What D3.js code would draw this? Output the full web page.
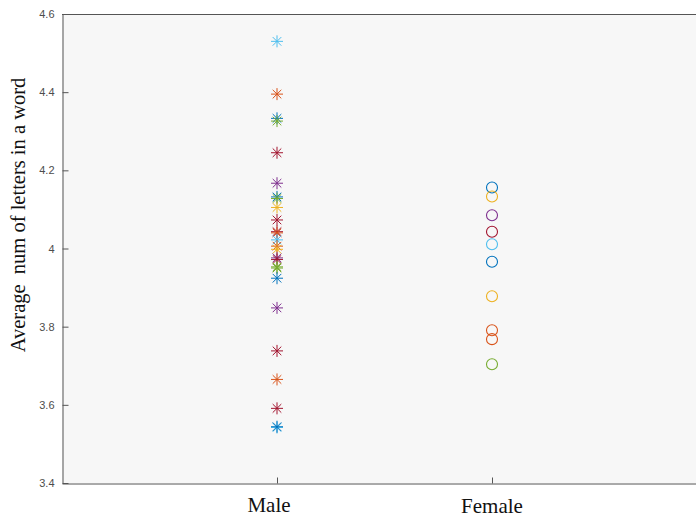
<!DOCTYPE html>
<html>
<head>
  <meta charset="utf-8" />
  <script src="https://cdnjs.cloudflare.com/ajax/libs/d3/7.8.5/d3.min.js"></script>
  <style>
    body { margin: 0; background: #fff; }
    .tick text { font-family: Arial, "Liberation Sans", sans-serif; font-size: 11px; fill: #4d4d4d; }
  </style>
</head>
<body>
  <svg width="696" height="517"></svg>
  <script>
    // groups on the x axis
    var groups = ["Male", "Female"]
    var yTicks = [3.4, 3.6, 3.8, 4, 4.2, 4.4, 4.6]

    // male values (asterisks) and their colours
    var maleValues = [4.530, 4.395, 4.333, 4.326, 4.245, 4.167, 4.132, 4.128, 4.105,
                      4.073, 4.043, 4.040, 4.022, 4.006, 3.998, 3.976, 3.972, 3.953,
                      3.950, 3.924, 3.848, 3.738, 3.665, 3.591, 3.542, 3.544]
    var maleColors = ["#4DBEEE", "#D95319", "#0072BD", "#77AC30", "#A2142F", "#7E2F8E",
                      "#0072BD", "#77AC30", "#EDB120", "#A2142F", "#A2142F", "#D95319",
                      "#4DBEEE", "#D95319", "#EDB120", "#7E2F8E", "#A2142F", "#77AC30",
                      "#77AC30", "#0072BD", "#7E2F8E", "#A2142F", "#D95319", "#A2142F",
                      "#4DBEEE", "#0072BD"]

    // female values (circles) and their colours
    var femaleValues = [4.156, 4.133, 4.085, 4.043, 4.011, 3.966, 3.878, 3.791, 3.768, 3.704]
    var femaleColors = ["#0072BD", "#EDB120", "#7E2F8E", "#A2142F", "#4DBEEE",
                        "#0072BD", "#EDB120", "#D95319", "#D95319", "#77AC30"]

    var padL = 62, padT = 14, padB = 483, padR = 707

    var x = d3.scaleLinear().domain([0, 3]).range([padL, padR])
    var y = d3.scaleLinear().domain([3.4, 4.6]).range([padB, padT])

    var svg = d3.select("svg")

    // plot background
    svg.append("rect")
      .attr("x", padL).attr("y", padT)
      .attr("width", padR - padL).attr("height", padB - padT)
      .style("fill", "#f7f7f7")

    // top border
    svg.append("line")
      .attr("x1", padL).attr("x2", padR)
      .attr("y1", padT + 0.5).attr("y2", padT + 0.5)
      .style("stroke", "#555").style("stroke-width", 1)

    // y axis with inward ticks
    var yAxis = d3.axisLeft(y).tickValues(yTicks).tickSize(0).tickPadding(8)
      .tickFormat(d3.format("~g"))
    var yG = svg.append("g").attr("transform", "translate(" + (padL + 0.5) + ",0)").call(yAxis)
    yG.select(".domain").style("stroke", "#555")
    yG.selectAll(".tick").append("line")
      .attr("x1", 0).attr("x2", 6).style("stroke", "#555")

    // x axis
    var xAxis = d3.axisBottom(x).tickValues([1, 2]).tickSize(0).tickFormat("")
    var xG = svg.append("g").attr("transform", "translate(0," + (padB + 0.5) + ")").call(xAxis)
    xG.select(".domain").style("stroke", "#555")
    xG.selectAll(".tick").append("line")
      .attr("y1", 0).attr("y2", -6).style("stroke", "#555")

    // group labels
    svg.selectAll(".glabel")
      .data(groups)
      .enter()
      .append("text")
        .attr("class", "glabel")
        .attr("x", (d, i) => x(i + 1))
        .attr("dx", (d, i) => i === 0 ? -8 : 0)
        .attr("y", (d, i) => i === 0 ? 511.5 : 513)
        .attr("text-anchor", "middle")
        .style("font-family", "'Liberation Serif', 'Times New Roman', serif")
        .style("font-size", "21px")
        .style("fill", "#111")
        .text(d => d)

    // y label
    svg.append("text")
      .attr("transform", "translate(25,215) rotate(-90)")
      .attr("text-anchor", "middle")
      .style("font-family", "'Liberation Serif', 'Times New Roman', serif")
      .style("font-size", "20.5px")
      .style("fill", "#111")
      .style("white-space", "pre")
      .text("Average  num of letters in a word")

    // male asterisks
    var star = "M-6,0L6,0M0,-6L0,6M-4.3,-4.3L4.3,4.3M-4.3,4.3L4.3,-4.3"
    svg.selectAll(".male")
      .data(maleValues)
      .enter()
      .append("path")
        .attr("class", "male")
        .attr("d", star)
        .attr("transform", d => "translate(" + x(1) + "," + y(d) + ")")
        .style("fill", "none")
        .style("stroke", (d, i) => maleColors[i])
        .style("stroke-width", 1)

    // female circles
    svg.selectAll(".female")
      .data(femaleValues)
      .enter()
      .append("circle")
        .attr("class", "female")
        .attr("cx", x(2))
        .attr("cy", d => y(d))
        .attr("r", 5.5)
        .style("fill", "none")
        .style("stroke", (d, i) => femaleColors[i])
        .style("stroke-width", 1.1)
  </script>
</body>
</html>
